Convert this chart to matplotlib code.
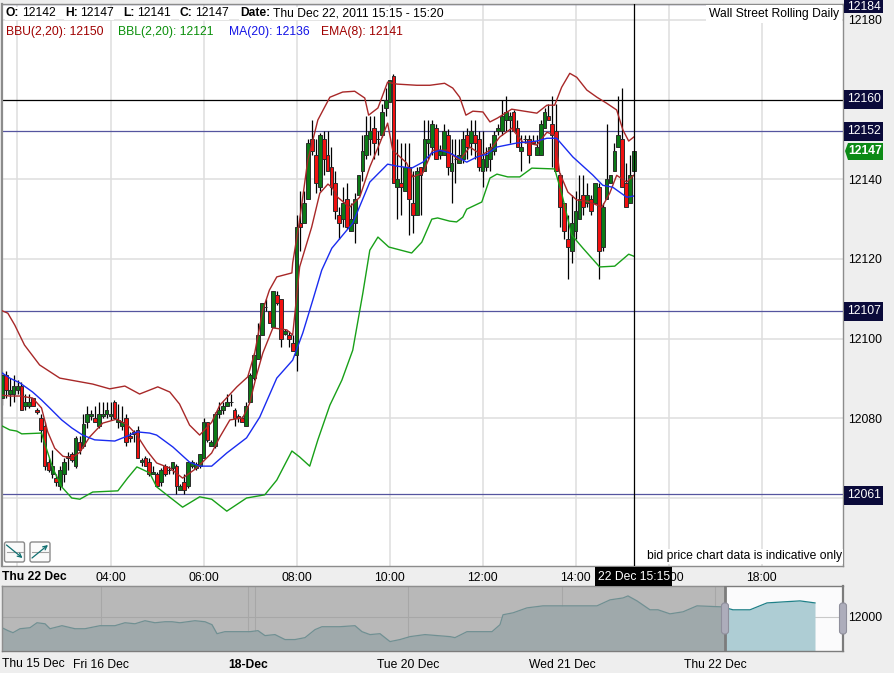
import matplotlib
matplotlib.use('Agg')
import matplotlib.pyplot as plt
from matplotlib.patches import Rectangle, FancyBboxPatch, Polygon

plt.rcParams['font.family'] = ['Liberation Sans', 'DejaVu Sans']
plt.rcParams['font.size'] = 8.7

# candles, 5 minute bars from 01:40
opens = [12085, 12091, 12086, 12086, 12087, 12088, 12083, 12083, 12085, 12082,
         12080, 12078, 12069, 12066, 12065, 12063, 12066, 12070, 12071, 12068,
         12074, 12073, 12079, 12080.5, 12080, 12078, 12080.5, 12081, 12080.5, 12084,
         12079, 12078, 12080, 12075.5, 12076, 12077, 12069, 12070, 12069, 12066,
         12066, 12064, 12068, 12067, 12067.5, 12068, 12062, 12064, 12063, 12068,
         12067.5, 12068, 12070, 12079, 12073, 12073, 12081, 12082, 12083, 12084,
         12082, 12080.5, 12080, 12078, 12084, 12090, 12095, 12101, 12108, 12107,
         12103, 12111, 12110, 12101.2, 12101, 12099, 12096, 12129, 12129, 12135,
         12150, 12146, 12138, 12150, 12146, 12143, 12139, 12131, 12130, 12135,
         12127, 12129, 12136, 12142, 12146, 12150, 12153, 12150, 12151, 12158,
         12159.5, 12166, 12138, 12139, 12137, 12143, 12134, 12131, 12143, 12142,
         12149, 12148, 12153, 12146, 12146, 12151, 12142, 12145, 12144, 12145,
         12151, 12149, 12151, 12150, 12142, 12143, 12145, 12147, 12152, 12152,
         12155, 12155, 12157, 12153, 12147, 12150, 12150, 12149.5, 12146, 12146,
         12153, 12156, 12154, 12152, 12141, 12134, 12125, 12122, 12127, 12130,
         12136, 12134, 12135, 12134, 12138, 12123, 12135, 12139, 12142, 12148,
         12150, 12139, 12134, 12142]
highs = [12092, 12092, 12090, 12091, 12089.5, 12089, 12086, 12086, 12085, 12082.5,
         12081, 12079, 12070, 12072, 12066, 12068, 12070, 12071.5, 12071.5, 12075.5,
         12075.5, 12081, 12083, 12082, 12083, 12084, 12084, 12084, 12084, 12084.5,
         12083.5, 12083, 12081, 12076.5, 12077, 12078, 12070, 12070.5, 12070, 12068,
         12066.5, 12067.5, 12068.5, 12068, 12069, 12068.5, 12063.5, 12066, 12069, 12069.5,
         12069, 12071, 12080, 12079, 12074.5, 12081.5, 12084, 12084, 12086, 12086,
         12082.5, 12081, 12080.5, 12084, 12091.5, 12096.5, 12104, 12109, 12110, 12107,
         12112, 12112, 12110, 12102.5, 12102, 12101, 12131, 12137, 12137, 12150,
         12155, 12150, 12151.5, 12152, 12152, 12148, 12142, 12133, 12138, 12139,
         12134, 12136.5, 12141, 12151, 12156, 12156, 12156, 12152, 12159, 12163,
         12165, 12166.5, 12150, 12149, 12149, 12149, 12142, 12143, 12143, 12155,
         12155, 12155, 12154, 12148.5, 12154, 12152.5, 12150, 12150, 12150, 12152,
         12153, 12155, 12155, 12152, 12152, 12148, 12149, 12152, 12154, 12160,
         12161, 12157, 12157.5, 12155, 12151, 12151, 12151, 12151, 12151, 12155,
         12158, 12159, 12161, 12159, 12141.5, 12134, 12131, 12136, 12137, 12141,
         12141, 12139, 12136, 12139, 12139, 12134, 12154, 12141, 12149, 12161,
         12163, 12144, 12146, 12147]
lows = [12083.4, 12085, 12083, 12084, 12086, 12082, 12082, 12082.5, 12083, 12081.2,
        12074, 12067, 12066.5, 12065, 12063, 12062, 12064, 12067, 12069, 12067.5,
        12071, 12072.5, 12077.5, 12079.5, 12079, 12077.5, 12080, 12080, 12079.5, 12080,
        12077.5, 12077, 12073, 12074, 12074, 12070, 12068, 12068, 12065.5, 12066,
        12063, 12063, 12065.5, 12066, 12066, 12061, 12062, 12061, 12062.5, 12067.5,
        12067, 12067.5, 12070, 12074, 12073, 12072.5, 12080, 12081, 12083, 12083,
        12078, 12079, 12079, 12078, 12084, 12089.5, 12095, 12101, 12107, 12104,
        12103, 12108.5, 12098, 12101, 12098, 12097, 12092, 12122, 12129, 12135,
        12146, 12136.5, 12137, 12141, 12142, 12136, 12130, 12125, 12128, 12127.5,
        12127, 12124, 12136, 12139.5, 12145, 12146, 12145, 12146, 12150.5, 12156,
        12159.5, 12139, 12130, 12131, 12137, 12126, 12126.5, 12131, 12131, 12142,
        12145, 12146, 12145, 12145, 12146, 12141, 12134, 12139, 12144, 12144,
        12145, 12146, 12145, 12142, 12138, 12142, 12142, 12146, 12151, 12151,
        12152, 12149, 12152, 12148, 12142, 12149, 12144, 12149, 12146, 12146,
        12153, 12155, 12143, 12142, 12128, 12125, 12115, 12119, 12125, 12130,
        12131, 12133, 12131, 12134, 12115, 12122, 12135, 12139, 12142, 12148,
        12138, 12133, 12134, 12142]
closes = [12091, 12087, 12087, 12088, 12088, 12082, 12084, 12084, 12083, 12081.5,
          12077, 12068, 12067, 12068, 12064, 12067, 12069, 12070.5, 12069.5, 12075,
          12072, 12078.5, 12081, 12081, 12079, 12081, 12081, 12082, 12081, 12080,
          12079.5, 12079, 12074, 12075, 12076.5, 12070, 12069.5, 12068, 12066, 12066.5,
          12063, 12067, 12066, 12067, 12069, 12063, 12063, 12062, 12069, 12069,
          12068.5, 12071, 12079, 12074.5, 12074, 12081, 12082, 12083, 12084, 12084,
          12080, 12080, 12079, 12083, 12091, 12096, 12101, 12109, 12108, 12104,
          12112, 12109, 12100, 12102, 12100, 12097, 12128, 12128, 12134, 12149,
          12147, 12139, 12151, 12145, 12142, 12138, 12132, 12129, 12134, 12128,
          12130, 12135, 12141, 12147, 12151, 12152, 12149, 12150, 12157, 12160,
          12165, 12139, 12140, 12138, 12143, 12135, 12131, 12142, 12141, 12150,
          12150, 12154, 12145, 12147, 12152, 12143, 12144, 12145, 12146, 12150,
          12148, 12152, 12149, 12143, 12145, 12146, 12148, 12151, 12153, 12156,
          12157, 12156, 12152, 12148, 12148, 12150, 12146, 12149, 12148, 12154,
          12157, 12155, 12151, 12142, 12133, 12127, 12123, 12129, 12132, 12135,
          12133, 12136, 12132, 12139, 12122, 12133, 12140, 12141, 12147, 12151,
          12138, 12133, 12141, 12147]

# indicator lines, bar number and price
bbu_bar = [0, 1.5, 3.3, 5.8, 9.7, 14.9, 23.4, 27.8, 31.7, 35.5, 40.2, 43.3, 45.8, 48.4, 51,
           54.1, 56.2, 60.6, 63.4, 65.2, 67.3, 69, 70.9, 74.8, 75, 76.8, 78.9, 81.5, 84.6,
           87.9, 91, 93.6, 94.6, 97, 99.5, 101.9, 107, 110.4, 114.2, 116.3, 118.1, 119.7,
           121.5, 124.1, 125.9, 127.9, 131.5, 138, 140.6, 142.6, 144.4, 146.5, 148.3,
           150.9, 153.5, 156, 158.6, 160.2, 161.7, 163]
bbu_val = [12107, 12106.4, 12103.4, 12098.4, 12093.4, 12090.1, 12088.6, 12087.4, 12088.1,
           12086.1, 12087.9, 12086.6, 12083.6, 12078.3, 12075.8, 12079, 12083.3, 12087.9,
           12090.4, 12096.4, 12107.2, 12112.2, 12115.5, 12116.5, 12119, 12129.8, 12144.8,
           12154.9, 12160.6, 12161.9, 12162.1, 12160.4, 12156.1, 12157.9, 12164.4, 12163.9,
           12163.6, 12163.6, 12164.1, 12162.9, 12160.6, 12156.1, 12157.1, 12156.9, 12154.4,
           12155.4, 12157.6, 12156.6, 12158.6, 12158.6, 12163.1, 12166.6, 12165.6, 12162.4,
           12160.6, 12159.1, 12157.4, 12152.4, 12149.6, 12150.6]
bbl_bar = [0, 2, 3.8, 5.1, 10.2, 11, 13.1, 15.4, 18, 20.1, 23.4, 29.9, 32.4, 34.8, 35.5, 38.1,
           39.9, 42.5, 46.6, 51, 54.1, 58, 63.1, 67.8, 70.9, 74.8, 76.8, 79.4, 81.5, 84.6,
           87.7, 90.5, 93.1, 94.9, 97, 99.8, 105.7, 108.3, 110.9, 112.4, 115.5, 117.3, 118.9,
           119.9, 123.8, 125.9, 127.7, 130.5, 133.6, 136.7, 142.6, 144.4, 147, 149.9, 154.2,
           158.1, 161.7, 163]
bbl_val = [12078.1, 12077.1, 12076.8, 12076.1, 12076.3, 12073.8, 12067.5, 12062.8, 12060,
           12059.7, 12061.5, 12061.8, 12065, 12067.8, 12067.5, 12066.3, 12062.8, 12060.8,
           12057.7, 12060.3, 12059.7, 12056.7, 12060, 12060.8, 12064.5, 12071.8, 12070.3,
           12068, 12074.6, 12083.3, 12089.6, 12097.1, 12111.4, 12122.2, 12125.5, 12123,
           12121.5, 12124.2, 12130, 12130.3, 12129.5, 12129.3, 12130.5, 12132.5, 12134.3,
           12140.3, 12141.3, 12140.6, 12140.6, 12142.8, 12142.6, 12136.5, 12126, 12122.7,
           12118, 12118.2, 12121.2, 12120.7]
ma_bar = [0, 2, 4.6, 7.9, 10.2, 12.3, 15.4, 18, 20.8, 23.9, 29.1, 31.7, 34.8, 38.1, 39.9, 44.1,
          48.4, 51, 54.1, 58, 63.1, 66.5, 70.9, 75, 77.6, 80.2, 82.5, 85.1, 90.5, 94.9, 99.5,
          101.9, 105.7, 108.6, 110.9, 113, 115.5, 118.1, 119.9, 122.5, 125.1, 127.7, 132.8,
          138, 140.6, 143.1, 147.3, 152.4, 155, 157.6, 161.2, 163]
ma_val = [12091.4, 12090.1, 12088.9, 12086.6, 12084.6, 12082.6, 12079.6, 12077.6, 12075.8,
          12074.6, 12074.3, 12075.3, 12076.6, 12076.3, 12075.8, 12072.8, 12069, 12068, 12068,
          12071.3, 12075.1, 12080.3, 12090.1, 12094.6, 12101.4, 12109.7, 12117.2, 12122.7,
          12129, 12139.3, 12143.8, 12143.3, 12142.8, 12144.3, 12146.6, 12147.3, 12146.6,
          12145.3, 12144.3, 12145.6, 12146.3, 12148.1, 12149.1, 12149.6, 12150.3, 12150.3,
          12145.6, 12141.1, 12138.5, 12138, 12135.5, 12135.8]
ema_bar = [0, 2, 4.6, 7.9, 10.2, 11.8, 13.6, 15.7, 18, 20.1, 22.6, 26, 29.6, 32.4, 34.8, 37.3,
           39.9, 43.3, 46.6, 50.2, 54.1, 56.2, 58.8, 62.1, 63.9, 65.7, 67.3, 69.9, 73.5, 75,
           76.8, 79.9, 82, 84.1, 85.3, 86.6, 89.7, 92.3, 94.9, 97.5, 99.5, 100.8, 104.4, 106,
           108.6, 111.1, 114.8, 115.5, 118.1, 120.7, 123.8, 125.9, 128.4, 131.5, 134.4, 138,
           140.6, 142.6, 143.9, 146, 148.3, 151.1, 154.8, 156.8, 158.6, 161.2, 163]
ema_val = [12085.8, 12085.6, 12085.6, 12085.1, 12082.6, 12076.6, 12072.5, 12070.5, 12070,
           12071.5, 12075.3, 12078.8, 12079.8, 12078.3, 12075.8, 12072, 12068.8, 12067.5,
           12065, 12067.5, 12071.3, 12075.3, 12079.6, 12080.1, 12083.8, 12090.9, 12096.4,
           12102.7, 12102.2, 12100.9, 12118, 12128, 12136.5, 12138.8, 12137.8, 12135.5, 12133,
           12135.5, 12143.1, 12149.1, 12154.1, 12147.3, 12144.1, 12140.6, 12141.6, 12147.3,
           12147.3, 12146.6, 12144.8, 12148.1, 12146.1, 12147.3, 12150.6, 12152.8, 12149.3,
           12148.6, 12151.8, 12151.1, 12141.6, 12136.8, 12134.8, 12134.5, 12133, 12136.5,
           12141, 12139.3, 12141]

blue_levels = [12184, 12152, 12107, 12061]
black_levels = [12160]
price_ticks = [12180, 12140, 12120, 12100, 12080, 12060]
price_labels = ['12180', '12140', '12120', '12100', '12080', '']
hour_ticks = [2, 4, 6, 8, 10, 12, 14, 16, 18]
hour_labels = ['', '04:00', '06:00', '08:00', '10:00', '12:00', '14:00', '16:00', '18:00']
marked_labels = ['12184', '12160', '12152', '12107', '12061']

# overview strip
ov_pos = [2, 8, 13, 20, 30, 37, 45, 50, 62, 75, 85, 100, 115, 125, 135, 145, 155, 165, 172, 180,
          195, 205, 212, 217, 225, 250, 258, 265, 275, 285, 295, 305, 315, 322, 340, 355, 362,
          370, 380, 385, 390, 400, 410, 425, 450, 455, 467, 483, 492, 500, 503, 513, 527, 543,
          563, 597, 610, 623, 628, 637, 650, 658, 670, 683, 697, 722, 733, 750, 767, 783, 800, 815]
ov_val = [11892, 11863, 11843, 11882, 11892, 11941, 11931, 11882, 11912, 11882, 11882, 11912, 11912,
          11941, 11931, 11961, 11941, 11951, 11951, 11941, 11961, 11951, 11922, 11833, 11853, 11853,
          11863, 11814, 11824, 11775, 11775, 11794, 11873, 11902, 11902, 11912, 11853, 11824, 11833,
          11794, 11755, 11775, 11804, 11824, 11804, 11794, 11853, 11853, 11853, 11922, 12020, 12039,
          12088, 12108, 12108, 12108, 12167, 12186, 12206, 12157, 12069, 12069, 12029, 12049, 12108,
          12098, 12069, 12069, 12137, 12147, 12157, 12137]
ov_ticks = [101, 248, 408, 562, 715]
ov_labels = ['Fri 16 Dec', '18-Dec', 'Tue 20 Dec', 'Wed 21 Dec', 'Thu 22 Dec']
ov_extra_grid = [255]

W, H = 894, 673
fig = plt.figure(figsize=(W / 100, H / 100), dpi=100, facecolor='#eeeeee')


def box(left, top, right, bottom):
    return [left / W, 1 - bottom / H, (right - left) / W, (bottom - top) / H]


ax = fig.add_axes(box(2, 4, 843, 565.5))
ax.set_xlim(1.667, 19.75)
ax.set_ylim(12043.06, 12184)
ax.set_xticks(hour_ticks)
ax.set_xticklabels(hour_labels)
ax.set_yticks(price_ticks)
ax.set_yticklabels(price_labels)
ax.yaxis.tick_right()
ax.tick_params(length=0, colors='black')
ax.tick_params(axis='y', pad=4)
ax.tick_params(axis='x', pad=5)
ax.grid(True, color='#dedede', lw=1.1)
ax.set_axisbelow(True)
for s in ax.spines.values():
    s.set_color('#8c8c8c')
    s.set_linewidth(1)
ax.spines['left'].set_linewidth(1.6)

for lvl in blue_levels:
    ax.axhline(lvl, color='#55559f', lw=0.9, zorder=1.5)
for lvl in black_levels:
    ax.axhline(lvl, color='black', lw=0.9, zorder=1.5)

times = [1.667 + i / 12 for i in range(len(opens))]
ax.vlines(times, lows, highs, color='black', lw=0.9, zorder=2)
bottoms = [min(o, c) for o, c in zip(opens, closes)]
heights = [abs(c - o) for o, c in zip(opens, closes)]
colors = ['#0c7a16' if c >= o else '#f01010' for o, c in zip(opens, closes)]
ax.bar(times, heights, bottom=bottoms, width=3.7 / 46.5, color=colors,
       edgecolor='#2c2c2c', linewidth=0.7, zorder=3)


def bar_hours(bars):
    return [1.667 + b / 12 for b in bars]


ax.plot(bar_hours(bbu_bar), bbu_val, color='#a82828', lw=1.0, zorder=4)
ax.plot(bar_hours(ema_bar), ema_val, color='#a82828', lw=1.0, zorder=4)
ax.plot(bar_hours(bbl_bar), bbl_val, color='#18a018', lw=1.0, zorder=4)
ax.plot(bar_hours(ma_bar), ma_val, color='#1a2cf0', lw=1.0, zorder=4)
ax.axvline(times[-1], color='black', lw=0.9, zorder=5)

# overview
ov = fig.add_axes(box(2, 586, 843, 651))
ov.set_xlim(2, 843)
ov.set_ylim(11662, 12304)
ov.set_facecolor('#fbfbfc')
ov.set_xticks(ov_ticks)
ov.set_xticklabels(ov_labels)
ov.get_xticklabels()[1].set_fontweight('bold')
ov.set_yticks([12000])
ov.yaxis.tick_right()
ov.tick_params(length=0, pad=4)
ov.tick_params(axis='x', pad=6)
ov.grid(True, color='#c9c9c9', lw=0.8)
ov.set_axisbelow(True)
for v in ov_extra_grid:
    ov.axvline(v, color='#c9c9c9', lw=0.8, zorder=0.5)
ov.fill_between(ov_pos, ov_val, 11662, color='#aecdd4', lw=0, zorder=1)
ov.plot(ov_pos, ov_val, color='#1f8088', lw=0.9, zorder=2)
ov.axvspan(2, 725, color='#989898', alpha=0.68, lw=0, zorder=3)
ov.axvline(725, color='#7c7c7c', lw=2, zorder=4)
for s in ov.spines.values():
    s.set_color('#7c7c7c')
    s.set_linewidth(1)
ov.spines['right'].set_linewidth(1.6)

# overlay in pixels for the labels and buttons
top = fig.add_axes([0, 0, 1, 1], zorder=10)
top.set_xlim(0, W)
top.set_ylim(H, 0)
top.axis('off')

header = [(6, 'O:', True), (22, '12142', False), (65, 'H:', True), (80, '12147', False),
          (123, 'L:', True), (137, '12141', False), (180, 'C:', True), (195, '12147', False),
          (240, 'Date:', True), (273, 'Thu Dec 22, 2011 15:15 - 15:20', False)]
for x, s, b in header:
    top.text(x, 13.5, s, va='center', ha='left', fontweight='bold' if b else 'normal',
             bbox=dict(fc='white', ec='none', pad=0.5))
legend = [(6, 'BBU(2,20): 12150', '#a00000'), (118, 'BBL(2,20): 12121', '#0a8f0a'),
          (229, 'MA(20): 12136', '#1414e6'), (321, 'EMA(8): 12141', '#a00000')]
for x, s, c in legend:
    top.text(x, 31.5, s, va='center', ha='left', color=c)

top.text(839, 14, 'Wall Street Rolling Daily', ha='right', va='center',
         bbox=dict(fc='white', ec='none', pad=2))
top.text(842, 556.5, 'bid price chart data is indicative only', ha='right', va='center',
         bbox=dict(fc='white', ec='none', pad=1))
top.text(2, 576.5, 'Thu 22 Dec', fontweight='bold', va='center', ha='left')
top.text(2, 664, 'Thu 15 Dec', va='center', ha='left')

# boxed price markers on the right
for s, yc in zip(marked_labels, [3.5, 99, 131, 311, 495]):
    yt, yb = max(yc - 9.5, 0), yc + 9.5
    if s == '12184':
        yb = 13
    top.add_patch(Rectangle((844, yt), 39, yb - yt, fc='#0a0a3a', ec='none'))
    top.text(847, (yt + yb) / 2 + 0.3, s, color='white', va='center', ha='left')
top.add_patch(Polygon([(845, 151), (848, 143), (883, 143), (883, 160), (848, 160)],
                      fc='#0c8a16', ec='none'))
top.text(848.5, 151.5, '12147', color='white', fontweight='bold', va='center', ha='left')

# time marker on the axis
top.add_patch(Rectangle((595, 567), 77, 19, fc='black', ec='none'))
top.text(597.5, 576.5, '22 Dec 15:15', color='white', va='center', ha='left')

# trend line buttons
for left, y0, y1 in [(3.5, 545, 558), (29, 558, 545)]:
    top.add_patch(FancyBboxPatch((left + 1, 542), 20, 20, boxstyle='round,pad=0,rounding_size=2',
                                 fc='#fafafa', ec='#8a8a8a', lw=1))
    top.plot([left + 3, left + 19], [552, 552], color='#a0a0a0', lw=0.8)
    top.annotate('', xy=(left + 19, y1), xytext=(left + 3, y0),
                 arrowprops=dict(arrowstyle='->', color='#0f6f70', lw=0.9, shrinkA=0, shrinkB=0,
                                 mutation_scale=7))

# window handles on the overview
for x in [725, 843]:
    top.add_patch(FancyBboxPatch((x - 3.5, 603), 7, 31, boxstyle='round,pad=0,rounding_size=3',
                                 fc='#adadbb', ec='#8f8f9c', lw=0.8))

fig.savefig('out.png', dpi=100, facecolor=fig.get_facecolor())
